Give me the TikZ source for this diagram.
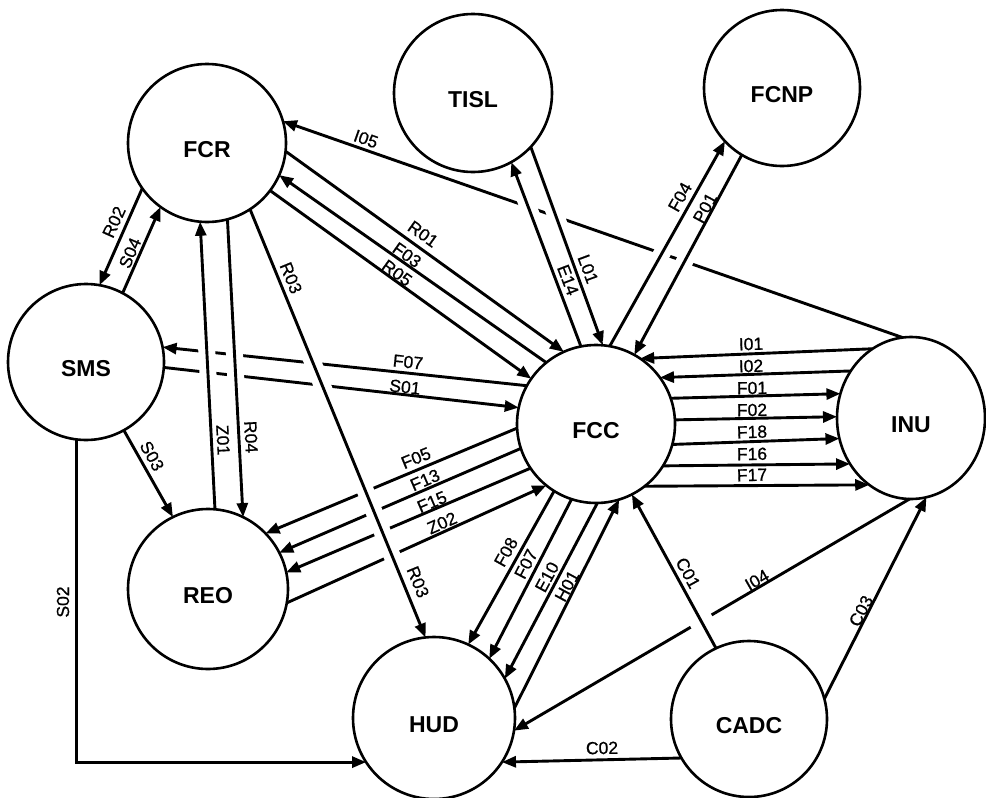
\documentclass[tikz,border=0pt]{standalone}
\usepackage{fontspec}
\setmainfont{Liberation Sans}
\newfontfamily\edgefont[FakeBold=0.8]{Liberation Sans}
\usetikzlibrary{arrows.meta,shapes.geometric}
\pgfdeclarelayer{edges}
\pgfsetlayers{edges,main}
\begin{document}
\begin{tikzpicture}[x=1pt,y=-1pt,
  unit/.style={circle,draw,line width=2.6pt,inner sep=0pt,outer sep=0pt,minimum size=#1,
    font=\fontsize{23}{23}\selectfont\bfseries,text height=28pt,text depth=0pt},
  unitell/.style={ellipse,draw,line width=2.6pt,inner sep=0pt,outer sep=0pt,
    font=\fontsize{23}{23}\selectfont\bfseries,text height=28pt,text depth=0pt},
  e/.style={line width=2.9pt,-{Triangle[length=14pt,width=11pt]}},
  over/.style={preaction={draw=white,line width=#1,arrows=-}},
  lb/.style={font=\edgefont\fontsize{17.5}{17.5}\selectfont,inner sep=0pt}]
\useasboundingbox (0,0) rectangle (986,798);

% units
\node[unit=158pt] (FCR)  at (207,143) {FCR};
\node[unit=158pt] (TISL) at (473,93)  {TISL};
\node[unit=156pt] (FCNP) at (782,88)  {FCNP};
\node[unit=156pt] (SMS)  at (86,362)  {SMS};
\node[unit=158pt] (FCC)  at (596,424) {FCC};
\node[unitell,minimum width=148pt,minimum height=162pt] (INU) at (911,418) {INU};
\node[unit=160pt] (REO)  at (208,589) {REO};
\node[unit=162pt] (HUD)  at (434,718) {HUD};
\node[unit=156pt] (CADC) at (749,719) {CADC};

\begin{pgfonlayer}{edges}
% lines that are broken where others cross them
\draw[e] (INU.96.4)   -- (FCR.16.8);    % I05
\draw[e] (FCC.151.5)  -- (SMS.11);      % F07
\draw[e] (SMS.-4.5)   -- (FCC.168.5);   % S01
\draw[e] (FCC.-177.1) -- (REO.44.5);    % F05
\draw[e] (FCC.-162.9) -- (REO.27.5);    % F13
\draw[e] (FCC.-146.3) -- (REO.12);      % F15
\draw[e] (REO.-10)    -- (FCC.-129.3);  % Z02
\draw[e] (INU.-91.4)  -- (HUD.-9);      % I04
% crossing lines
\draw[e,over=17pt] (FCR.-57.3)  -- (HUD.96.3);   % R03
\draw[e,over=17pt] (FCR.-75.1)  -- (REO.64.1);   % R04
\draw[e,over=17pt] (REO.85.1)   -- (FCR.-95);    % Z01
\draw[e,over=17pt] (FCC.101.2)  -- (TISL.-61.6); % E14
\draw[e,over=17pt] (TISL.-43)   -- (FCC.85.2);   % L01
\draw[e,over=17pt] (FCC.80.1)   -- (FCNP.-137.5);% F04
\draw[e,over=17pt] (FCNP.-121.3)-- (FCC.61.6);   % P01
\draw[e,over=24pt] (CADC.115.6) -- (FCC.-63.1);  % C01
% other lines
\draw[e] (FCR.-6.6)   -- (FCC.114);     % R01
\draw[e] (FCC.129.4)  -- (FCR.-24.1);   % F03
\draw[e] (FCR.-37.1)  -- (FCC.145.4);   % R05
\draw[e] (SMS.62.1)   -- (FCR.-126.2);  % S04
\draw[e] (FCR.-145.3) -- (SMS.80.3);    % R02
\draw[e] (INU.119.8)  -- (FCC.56.1);    % I01
\draw[e] (INU.142.1)  -- (FCC.36.1);    % I02
\draw[e] (FCC.19.9)   -- (INU.161.6);   % F01
\draw[e] (FCC.3)      -- (INU.179.2);   % F02
\draw[e] (FCC.-15.1)  -- (INU.-164.5);  % F18
\draw[e] (FCC.-32.5)  -- (INU.-143.7);  % F16
\draw[e] (FCC.-52.1)  -- (INU.-122.2);  % F17
\draw[e] (HUD.7.3)    -- (FCC.-73.9);   % H01
\draw[e] (FCC.-89.3)  -- (HUD.29.4);    % E10
\draw[e] (FCC.-108.2) -- (HUD.47);      % F07
\draw[e] (FCC.-122.9) -- (HUD.65.6);    % F08
\draw[e] (SMS.-61.2)  -- (REO.116.6);   % S03
\draw[e] (SMS.-97.7)  |- (HUD.-147.6);  % S02
\draw[e] (CADC.-150.5)-- (HUD.-33.3);   % C02
\draw[e] (CADC.15.4)  -- (INU.-79);     % C03
\end{pgfonlayer}

% connector labels
\node[lb,rotate=-19.4] (tI05) at (366,139) {I05};
\node[lb,rotate=-35.5] (tR01) at (423,234) {R01};
\node[lb,rotate=-35.2] (tF03) at (407,255) {F03};
\node[lb,rotate=-35.8] (tR05) at (397,273) {R05};
\node[lb,rotate=-69.1] (tE14) at (568,280) {E14};
\node[lb,rotate=-69.7] (tL01) at (588,269) {L01};
\node[lb,rotate=60.9]  (tF04) at (680,197) {F04};
\node[lb,rotate=61.7]  (tP01) at (705,208) {P01};
\node[lb,rotate=1.7]   (tI01) at (751,344) {I01};
\node[lb,rotate=1.8]   (tI02) at (751,366) {I02};
\node[lb,rotate=1.0]   (tF01) at (752,388) {F01};
\node[lb,rotate=1.0]   (tF02) at (752,410) {F02};
\node[lb,rotate=2.0]   (tF18) at (752,432) {F18};
\node[lb,rotate=1.2]   (tF16) at (752,454) {F16};
\node[lb,rotate=1.8]   (tF17) at (752,475) {F17};
\node[lb,rotate=-6.1]  (tF07) at (408,362) {F07};
\node[lb,rotate=-6.4]  (tS01) at (405,387) {S01};
\node[lb,rotate=22.4]  (tF05) at (416,458) {F05};
\node[lb,rotate=23.5]  (tF13) at (425,480) {F13};
\node[lb,rotate=23.1]  (tF15) at (432,502) {F15};
\node[lb,rotate=23.9]  (tZ02) at (442,523) {Z02};
\node[lb,rotate=-67.8] (tR03a) at (291,278) {R03};
\node[lb,rotate=-67.8] (tR03b) at (418,582) {R03};
\node[lb,rotate=65.5]  (tR02) at (114,222) {R02};
\node[lb,rotate=66.9]  (tS04) at (130,253) {S04};
\node[lb,rotate=-87]   (tZ01) at (223,440) {Z01};
\node[lb,rotate=-87]   (tR04) at (251,437) {R04};
\node[lb,rotate=-60.8] (tS03) at (152,456) {S03};
\node[lb,rotate=90]    (tS02) at (63,602)  {S02};
\node[lb,rotate=61.0]  (tF08) at (506,552) {F08};
\node[lb,rotate=62.7]  (tF07b) at (526,564) {F07};
\node[lb,rotate=61.7]  (tE10) at (547,577) {E10};
\node[lb,rotate=61.7]  (tH01) at (567,586) {H01};
\node[lb,rotate=-61.4] (tC01) at (688,573) {C01};
\node[lb,rotate=29.9]  (tI04) at (757,580) {I04};
\node[lb,rotate=0.9]   (tC02) at (602,748) {C02};
\node[lb,rotate=62.4]  (tC03) at (861,611) {C03};
\end{tikzpicture}
\end{document}
